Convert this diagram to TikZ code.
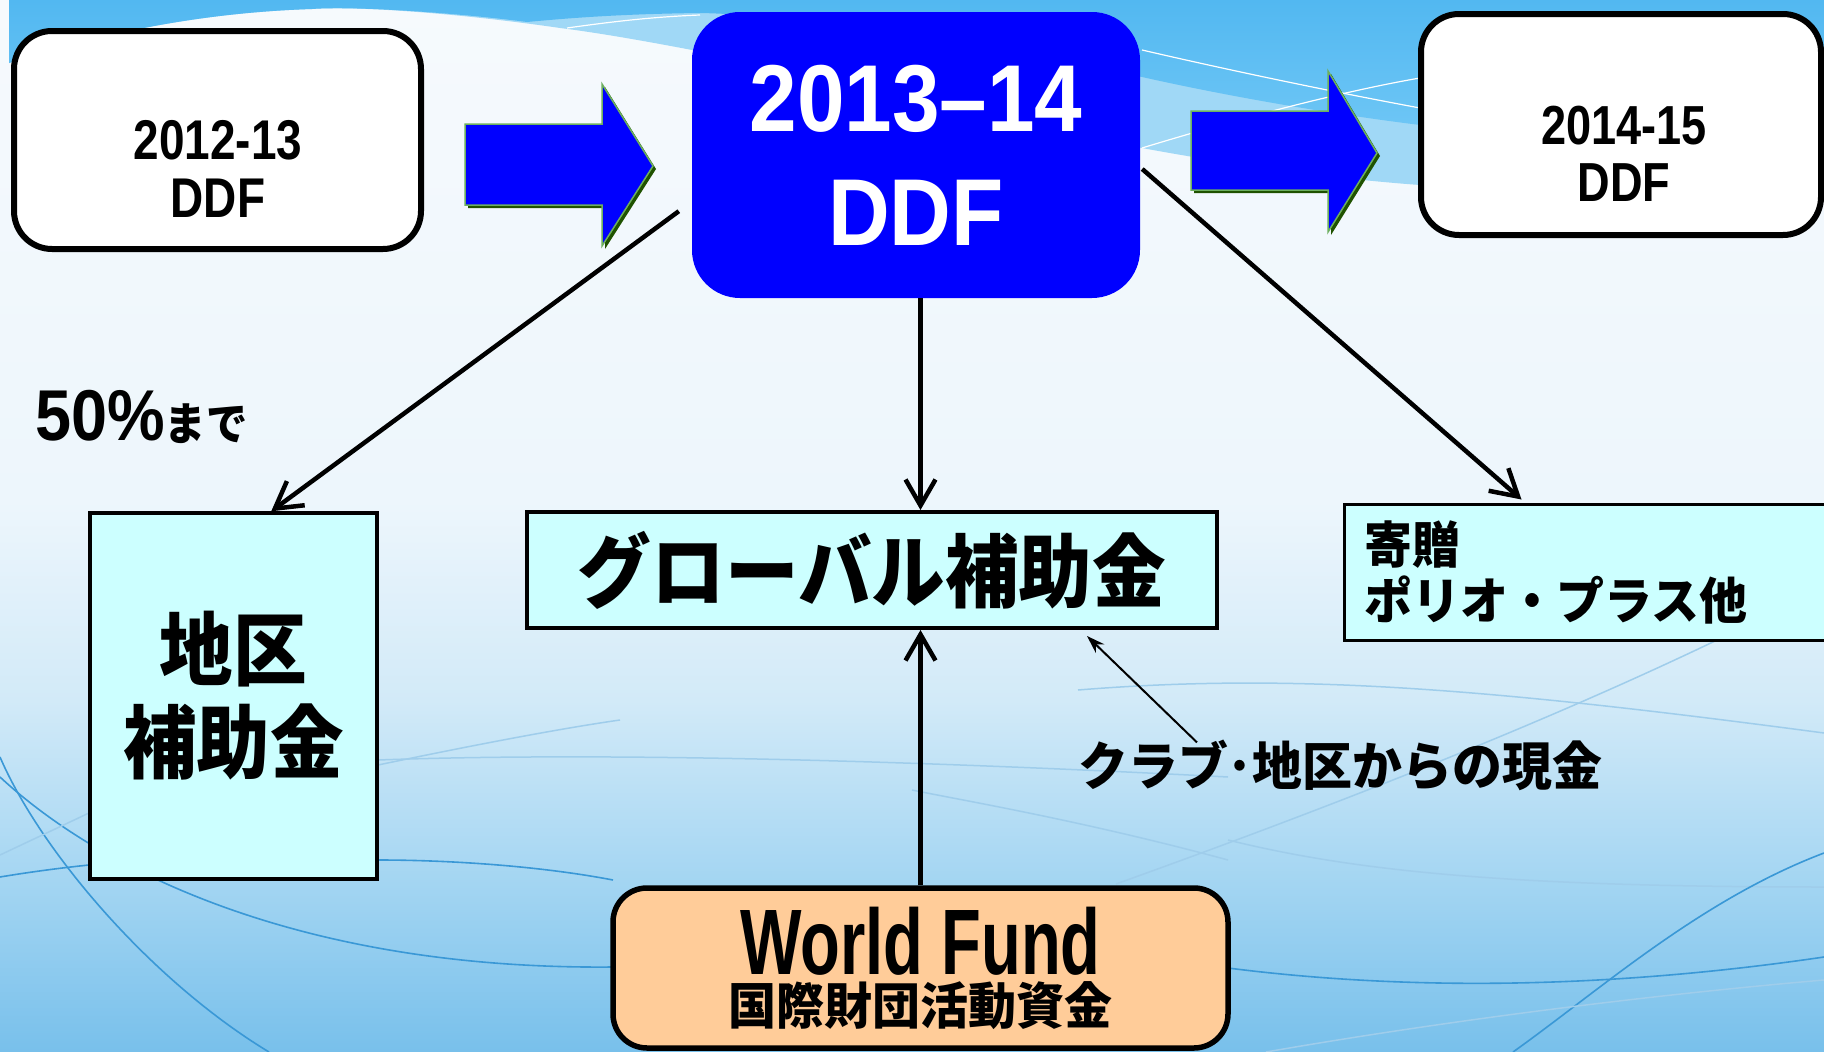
\documentclass[tikz,border=0pt]{standalone}
\usepackage{fontspec}
\setmainfont{Liberation Sans}
\newfontfamily\condA{Liberation Sans}[FakeStretch=0.82]
\newfontfamily\condB{Liberation Sans}[FakeStretch=0.70]
\newfontfamily\condC{Liberation Sans}[FakeStretch=0.90]
\newfontfamily\jpA{Noto Sans CJK JP}[FakeStretch=0.92]
\newfontfamily\jpB{Noto Sans CJK JP}[FakeStretch=0.96]
\usetikzlibrary{arrows.meta,calc}
\definecolor{skytop}{HTML}{52B8F1}
\definecolor{skybot}{HTML}{74C9F6}
\definecolor{band}{HTML}{A0D8F6}
\definecolor{bgA}{HTML}{78C0EB}
\definecolor{bgB}{HTML}{A3D5F2}
\definecolor{bgC}{HTML}{D2EAF8}
\definecolor{bgD}{HTML}{EDF6FC}
\definecolor{bgE}{HTML}{F6FAFD}
\definecolor{waveA}{HTML}{3A98D6}
\definecolor{waveB}{HTML}{9FCDEB}
\definecolor{ddfblue}{HTML}{0000FF}
\definecolor{cyanbox}{HTML}{CCFFFF}
\definecolor{peach}{HTML}{FFCC99}
\definecolor{arrline}{HTML}{6DAF5F}
\definecolor{arrshadow}{HTML}{1F5200}
\pgfdeclareverticalshading{bgsh}{100bp}{color(0bp)=(bgA); color(25bp)=(bgA); color(33bp)=(bgB); color(41.7bp)=(bgC); color(51.2bp)=(bgD); color(75bp)=(bgE); color(100bp)=(bgE)}
\tikzset{
  rbox/.style={draw=black, line width=6pt, rounded corners=38pt, fill=white, inner sep=0pt},
  cbox/.style={draw=black, fill=cyanbox, line width=3.5pt},
  conn/.style={line width=4.5pt, -{Straight Barb[length=26pt,width=30pt]}},
  thinarr/.style={line width=2pt, -{Stealth[length=18pt,width=12pt]}},
  bigarrow/.style={fill=ddfblue, draw=arrline, line width=1.5pt},
  bigshadow/.style={fill=arrshadow},
  wavea/.style={draw=waveA, line width=1.6pt},
  waveb/.style={draw=waveB, line width=1.5pt},
}
\begin{document}
\begin{tikzpicture}[x=1pt,y=-1pt]
\useasboundingbox (0,0) rectangle (1824,1052);
% background
\shade[shading=bgsh] (0,0) rectangle (1824,1052);
\fill[band] (9,0) -- (1824,0) -- (1824,200)
  .. controls (1650,195) and (1500,190) .. (1420,185)
  .. controls (1350,180) and (1250,168) .. (1142,148)
  .. controls (1000,120) and (900,90) .. (692,50)
  .. controls (650,42) and (600,33) .. (560,28)
  .. controls (450,12) and (350,6) .. (312,9)
  .. controls (220,12) and (120,27) .. (9,63) -- cycle;
\shade[top color=skytop, bottom color=skybot] (9,0) -- (1824,0) -- (1824,160)
  .. controls (1650,150) and (1500,135) .. (1420,125)
  .. controls (1300,110) and (1200,90) .. (1142,77)
  .. controls (950,40) and (800,15) .. (700,13)
  .. controls (620,14) and (570,18) .. (527,22)
  .. controls (450,12) and (350,6) .. (312,9)
  .. controls (220,12) and (120,27) .. (9,63) -- cycle;
\draw[white, line width=1.2pt] (1142,50) .. controls (1250,75) and (1350,95) .. (1420,108);
\draw[white, line width=1.2pt] (1142,148) .. controls (1250,115) and (1350,90) .. (1420,78);
\draw[white, line width=1.2pt] (567,28) .. controls (610,22) and (650,17) .. (700,15);
% wave lines
\draw[wavea] (0,777) .. controls (100,870) and (300,970) .. (613,967);
\draw[wavea] (0,757) .. controls (40,850) and (150,980) .. (269,1052);
\draw[waveb] (0,855) -- (89,813);
\draw[wavea] (0,877) .. controls (30,872) and (60,868) .. (89,865);
\draw[wavea] (378,860) .. controls (450,860) and (540,866) .. (613,880);
\draw[waveb] (378,760) .. controls (600,752) and (900,760) .. (1228,777);
\draw[waveb] (378,765) .. controls (450,750) and (550,730) .. (620,720);
\draw[waveb] (1078,690) .. controls (1300,672) and (1500,690) .. (1824,733);
\draw[waveb] (1116,884) .. controls (1350,800) and (1550,720) .. (1715,641);
\draw[waveb] (1228,840) .. controls (1350,870) and (1500,887) .. (1824,887);
\draw[waveb] (1228,860) .. controls (1080,820) and (960,800) .. (912,790);
\draw[wavea] (1228,968) .. controls (1400,990) and (1600,990) .. (1824,957);
\draw[wavea] (1513,1052) .. controls (1600,990) and (1700,900) .. (1824,853);
\draw[waveb] (1266,1052) .. controls (1450,1020) and (1650,995) .. (1824,980);
% big block arrows
\fill[bigshadow] (468,127) -- (605,127) -- (605,87) -- (656,169) -- (605,249) -- (605,208) -- (468,208) -- cycle;
\filldraw[bigarrow] (465,124) -- (602,124) -- (602,84) -- (653,166) -- (602,246) -- (602,205) -- (465,205) -- cycle;
\fill[bigshadow] (1194,114) -- (1331,114) -- (1331,74) -- (1380,156) -- (1331,235) -- (1331,193) -- (1194,193) -- cycle;
\filldraw[bigarrow] (1191,111) -- (1328,111) -- (1328,71) -- (1377,153) -- (1328,232) -- (1328,190) -- (1191,190) -- cycle;
% boxes
\node[rbox, minimum width=407pt, minimum height=218pt] (y12) at (217.5,140) {};
\node[font=\condA\bfseries\fontsize{56}{57.5}\selectfont, align=center, inner sep=0pt] (y12t) at (218,169) {2012-13\\DDF};
\node[rbox, minimum width=400pt, minimum height=221pt] (y14) at (1621,124.5) {};
\node[font=\condA\bfseries\fontsize{55}{57}\selectfont, align=center, inner sep=0pt] (y14t) at (1624,153.5) {2014-15\\DDF};
\node[fill=ddfblue, rounded corners=48pt, minimum width=448pt, minimum height=286pt, inner sep=0pt,
  text=white, align=center, font=\condC\bfseries\fontsize{95}{114}\selectfont] (ddf) at (916,155) {2013–14\\DDF};
\node[cbox, minimum width=287pt, minimum height=366pt, inner sep=0pt, align=center,
  font=\jpA\bfseries\fontsize{80}{93}\selectfont] (dist) at (233.5,696) {地区\\補助金};
\node[cbox, line width=4pt, minimum width=690pt, minimum height=116pt, inner sep=0pt,
  font=\jpA\bfseries\fontsize{80}{80}\selectfont] (glob) at (872,570) {グローバル補助金};
\node[cbox, line width=3pt, minimum width=490pt, minimum height=136pt, inner sep=0pt, text width=450pt, align=left,
  font=\jpB\bfseries\fontsize{50}{56}\selectfont] (don) at (1589,572) {寄贈\\ポリオ・プラス他};
\node[draw=black, fill=peach, line width=5.5pt, rounded corners=34pt, minimum width=615pt, minimum height=160pt, inner sep=0pt,
  align=center, font=\fontsize{50}{50}\selectfont] (wf) at (920.5,968)
  {{\condB\bfseries\fontsize{93}{50}\selectfont World Fund}\\{\jpB\bfseries\fontsize{50}{50}\selectfont 国際財団活動資金}};
\node[anchor=base west, inner sep=0pt] (pct) at (35,440)
  {{\condC\bfseries\fontsize{72}{72}\selectfont 50\%}{\jpA\bfseries\fontsize{45}{45}\selectfont まで}};
\node[anchor=west, inner sep=0pt, font=\jpB\bfseries\fontsize{52}{52}\selectfont] (cash) at (1078,765) {クラブ･地区からの現金};
% connectors
\draw[conn] ($(ddf.south west)+(-13,-87)$) -- ($(dist.north west)+(183,0)$);
\draw[conn] (ddf.south -| wf.north) -- (glob.north -| wf.north);
\draw[conn] ($(ddf.east)+(2,14)$) -- ($(don.north west)+(179,-3)$);
\draw[conn] (wf.north) -- (glob.south -| wf.north);
\coordinate (cashpt) at ($(cash.north west)+(119,3)$);
\draw[thinarr] (cashpt) -- ($(glob.south west)+(562,6)$);
\end{tikzpicture}
\end{document}
